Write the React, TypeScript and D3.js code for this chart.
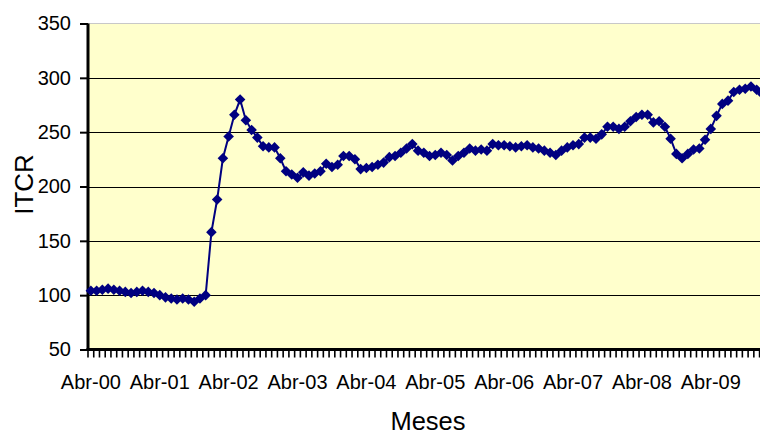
import React, { useEffect, useRef } from "react";
import * as d3 from "d3";

const monthNames = ["Ene", "Feb", "Mar", "Abr", "May", "Jun", "Jul", "Ago", "Sep", "Oct", "Nov", "Dic"];
const startMonth = 3; // Abr
const startYear = 2000;

const itcrValues = [
  104, 104, 105, 106, 105, 104, 103, 102, 103, 104,
  103, 102, 100, 98, 97, 96, 97, 96, 94, 97,
  100, 158, 188, 226, 246, 266, 280, 261, 252, 245,
  237, 236, 236, 226, 214, 211, 208, 213, 210, 212,
  214, 221, 218, 220, 228, 228, 225, 216, 217, 218,
  220, 222, 227, 228, 231, 235, 239, 233, 231, 228,
  229, 231, 229, 224, 228, 231, 235, 233, 234, 233,
  239, 238, 238, 237, 236, 237, 238, 236, 235, 233,
  231, 229, 233, 236, 238, 239, 245, 245, 244, 248,
  255, 255, 253, 255, 260, 264, 266, 266, 259, 260,
  255, 244, 230, 226, 230, 234, 235, 243, 253, 265,
  276, 279, 287, 289, 290, 292, 289, 285,
];

const categories = itcrValues.map((_, i) => {
  const m = (startMonth + i) % 12;
  const y = startYear + Math.floor((startMonth + i) / 12);
  return `${monthNames[m]}-${String(y % 100).padStart(2, "0")}`;
});

const yTicks = [50, 100, 150, 200, 250, 300, 350];
const gridTicks = [100, 150, 200, 250, 300];

export default function App() {
  const ref = useRef<SVGSVGElement>(null);

  useEffect(() => {
    const svg = d3.select(ref.current);
    svg.selectAll("*").remove();

    const left = 88;
    const top = 23.5;
    const bottom = 349.5;
    const step = 5.74;
    const right = left + step * categories.length;

    const x = d3.scaleBand<string>().domain(categories).range([left, right]).paddingInner(0).paddingOuter(0);
    const y = d3.scaleLinear().domain([50, 350]).range([bottom, top]);
    const cx = (c: string) => (x(c) as number) + x.bandwidth() / 2;

    const font = "Arial, 'Liberation Sans', sans-serif";

    // plot area background
    svg.append("rect")
      .attr("x", left).attr("y", top)
      .attr("width", right - left).attr("height", bottom - top)
      .attr("fill", "#FFFFCC");
    svg.append("line")
      .attr("x1", left).attr("x2", right).attr("y1", top).attr("y2", top)
      .attr("stroke", "#c8c8c8").attr("stroke-width", 1);

    // gridlines
    svg.append("g").selectAll("line").data(gridTicks).join("line")
      .attr("x1", left).attr("x2", right)
      .attr("y1", d => Math.round(y(d)) + 0.5).attr("y2", d => Math.round(y(d)) + 0.5)
      .attr("stroke", "#000").attr("stroke-width", 1);

    // y axis
    const yAxis = d3.axisLeft(y).tickValues(yTicks).tickSize(8).tickPadding(9)
      .tickFormat(d => String(d));
    const gy = svg.append("g").attr("transform", `translate(${left},0)`).call(yAxis);
    gy.select(".domain").remove();
    gy.selectAll(".tick line").attr("stroke", "#000").attr("stroke-width", 2);
    gy.selectAll(".tick text").attr("font-family", font).attr("font-size", 20).attr("fill", "#000");
    svg.append("line")
      .attr("x1", left).attr("x2", left).attr("y1", top).attr("y2", bottom + 1)
      .attr("stroke", "#000").attr("stroke-width", 3);

    // x axis ticks at category boundaries
    const boundaries = d3.range(categories.length + 1).map(i => left + i * x.step());
    svg.append("g").selectAll("line").data(boundaries).join("line")
      .attr("x1", d => d).attr("x2", d => d)
      .attr("y1", bottom).attr("y2", bottom + 8)
      .attr("stroke", "#000").attr("stroke-width", 1.6);
    svg.append("line")
      .attr("x1", left - 1.5).attr("x2", right).attr("y1", bottom).attr("y2", bottom)
      .attr("stroke", "#000").attr("stroke-width", 3);

    // x labels (every April)
    svg.append("g").selectAll("text")
      .data(categories.filter(c => c.startsWith("Abr")))
      .join("text")
      .attr("x", d => cx(d))
      .attr("y", 388.5)
      .attr("text-anchor", "middle")
      .attr("font-family", font).attr("font-size", 20).attr("fill", "#000")
      .text(d => d);

    // line
    const line = d3.line<number>()
      .x((_, i) => cx(categories[i]))
      .y(d => y(d));
    svg.append("path")
      .datum(itcrValues)
      .attr("d", line)
      .attr("fill", "none")
      .attr("stroke", "#000080")
      .attr("stroke-width", 2);

    // markers
    const sym = d3.symbol().type(d3.symbolSquare).size(56);
    svg.append("g").selectAll("path").data(itcrValues).join("path")
      .attr("d", sym as any)
      .attr("transform", (d, i) => `translate(${cx(categories[i])},${y(d)}) rotate(45)`)
      .attr("fill", "#000080");

    // axis titles
    svg.append("text")
      .attr("x", 428).attr("y", 429.5)
      .attr("text-anchor", "middle")
      .attr("font-family", font).attr("font-size", 25.5).attr("fill", "#000")
      .text("Meses");
    svg.append("text")
      .attr("transform", "translate(33,184.5) rotate(-90)")
      .attr("text-anchor", "middle")
      .attr("font-family", font).attr("font-size", 26).attr("fill", "#000")
      .text("ITCR");
  }, []);

  return (
    <div style={{ position: "absolute", left: 0, top: 0, width: 760, height: 435, overflow: "hidden", background: "#fff" }}>
      <svg ref={ref} width={760} height={435} style={{ display: "block" }} />
    </div>
  );
}
